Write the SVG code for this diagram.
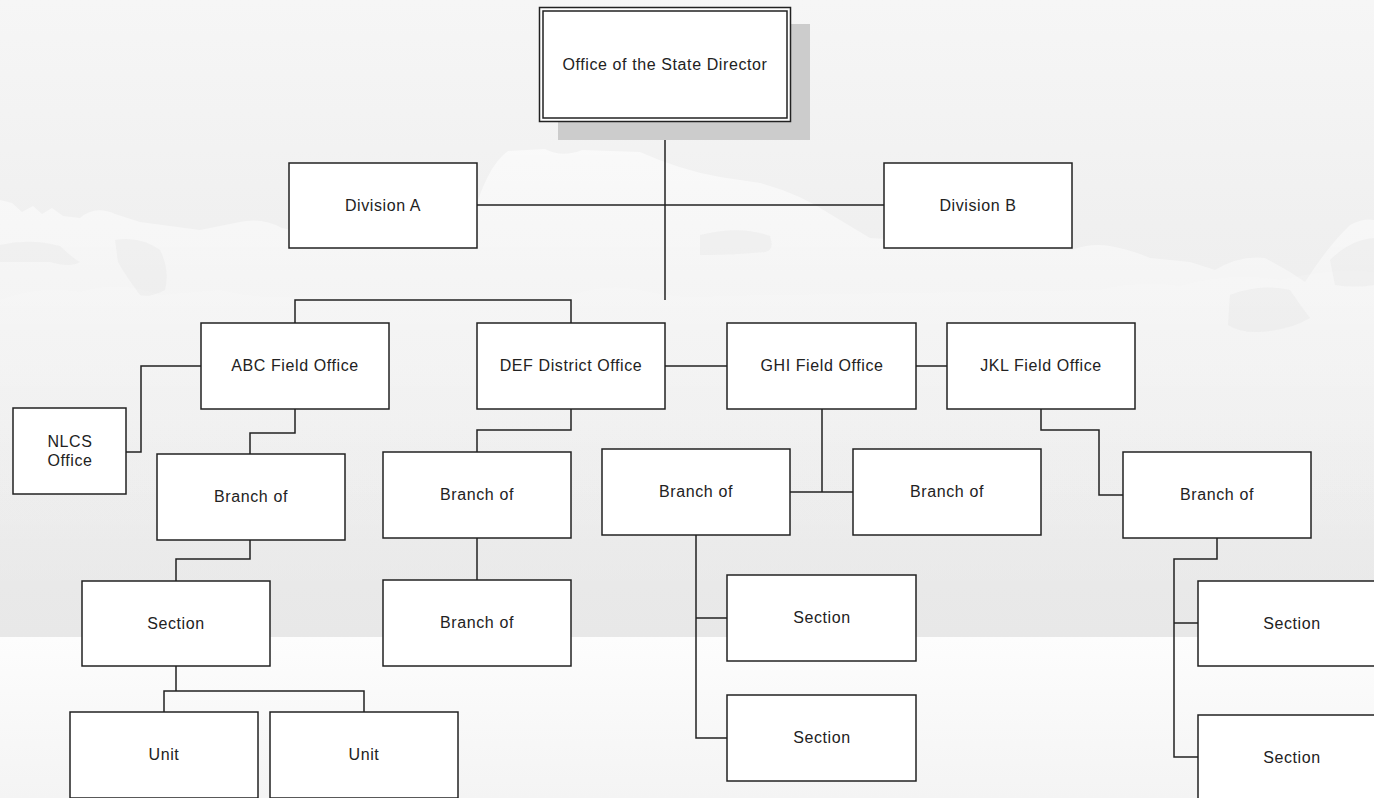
<svg xmlns="http://www.w3.org/2000/svg" width="1374" height="798" viewBox="0 0 1374 798">
  <defs>
    <linearGradient id="sky" x1="0" y1="0" x2="0" y2="637" gradientUnits="userSpaceOnUse">
      <stop offset="0" stop-color="#f6f6f6"/>
      <stop offset="0.35" stop-color="#f0f0f0"/>
      <stop offset="1" stop-color="#e8e8e8"/>
    </linearGradient>
    <linearGradient id="ground" x1="0" y1="637" x2="0" y2="798" gradientUnits="userSpaceOnUse">
      <stop offset="0" stop-color="#fdfdfd"/>
      <stop offset="1" stop-color="#f4f4f4"/>
    </linearGradient>
    <linearGradient id="cloud" x1="0" y1="140" x2="0" y2="600" gradientUnits="userSpaceOnUse">
      <stop offset="0" stop-color="#ffffff" stop-opacity="0.6"/>
      <stop offset="0.35" stop-color="#ffffff" stop-opacity="0.35"/>
      <stop offset="1" stop-color="#ffffff" stop-opacity="0"/>
    </linearGradient>
    <style>
      .box { fill: #ffffff; stroke: #222222; stroke-width: 1.5; }
      .lbl { font-family: "Liberation Sans", Arial, sans-serif; font-size: 16px; letter-spacing: 0.6px; fill: #222222; text-anchor: middle; }
      .conn { fill: none; stroke: #222222; stroke-width: 1.5; }
      .shade { fill: #e2e2e2; opacity: 0.3; }
    </style>
  </defs>

  <!-- background -->
  <rect x="0" y="0" width="1374" height="637" fill="url(#sky)"/>
  <path fill="url(#cloud)" d="M0,200 L12,203 L22,212 L33,206 L42,214 L52,208 L63,216 L80,218 Q95,205 115,214 L140,222 Q170,226 200,230 L240,222 Q262,217 282,228 L300,232 L470,226 Q486,166 508,151 L545,149 Q562,158 582,150 L640,152 Q680,170 720,177 L760,183 Q800,194 830,214 L870,238 L1072,250 Q1090,243 1110,246 Q1132,250 1150,258 L1190,262 L1215,270 Q1240,255 1265,258 L1290,272 L1305,282 Q1328,246 1350,225 Q1364,218 1374,220 L1374,600 L0,600 Z"/>
  <path fill="url(#cloud)" d="M0,300 Q40,285 80,292 Q120,280 160,295 L220,290 Q260,300 300,296 L560,300 Q600,282 640,290 Q680,300 720,296 L1100,290 Q1140,280 1180,286 Q1230,272 1280,280 Q1330,268 1374,272 L1374,600 L0,600 Z" opacity="0.3"/>
  <path class="shade" d="M0,245 Q30,238 60,246 Q75,260 80,262 Q70,268 50,262 Q20,262 0,262 Z"/>
  <path class="shade" d="M115,240 Q140,236 160,250 Q170,270 165,290 Q150,298 140,295 Q125,275 118,262 Z"/>
  <path class="shade" d="M700,235 Q740,225 770,236 Q775,250 765,252 Q735,255 700,255 Z"/>
  <path class="shade" d="M1230,295 Q1260,283 1290,290 Q1300,305 1310,318 Q1290,330 1260,332 Q1240,333 1228,325 Z"/>
  <path class="shade" d="M1330,260 Q1350,240 1374,238 L1374,285 Q1355,288 1335,285 Z"/>
  <rect x="0" y="637" width="1374" height="161" fill="url(#ground)"/>

  <!-- connectors -->
  <g id="connectors">
    <path class="conn" d="M665,122 V300"/>
    <path class="conn" d="M477,205 H884"/>
    <path class="conn" d="M295,323 V300 H571 V323"/>
    <path class="conn" d="M665,366 H727"/>
    <path class="conn" d="M916,366 H947"/>
    <path class="conn" d="M201,366 H141 V452 H126"/>
    <path class="conn" d="M295,409 V433 H250 V454"/>
    <path class="conn" d="M250,540 V559 H176 V581"/>
    <path class="conn" d="M176,666 V691"/>
    <path class="conn" d="M164,712 V691 H364 V712"/>
    <path class="conn" d="M571,409 V430 H477 V452"/>
    <path class="conn" d="M477,538 V580"/>
    <path class="conn" d="M822,409 V492"/>
    <path class="conn" d="M790,492 H853"/>
    <path class="conn" d="M696,535 V738 H727"/>
    <path class="conn" d="M696,618 H727"/>
    <path class="conn" d="M1041,409 V430 H1099 V495 H1123"/>
    <path class="conn" d="M1217,538 V559 H1174 V757 H1198"/>
    <path class="conn" d="M1174,623 H1198"/>
  </g>

  <!-- nodes -->
  <g id="node-director">
    <rect x="558" y="24" width="252" height="116" fill="#cccccc"/>
    <rect x="539.5" y="7.5" width="251" height="114" fill="#ffffff" stroke="#222222" stroke-width="1.5"/>
    <rect x="543" y="11" width="244" height="107" fill="none" stroke="#222222" stroke-width="1.5"/>
    <text class="lbl" x="665" y="70">Office of the State Director</text>
  </g>
  <g id="node-division-a">
    <rect class="box" x="289" y="163" width="188" height="85"/>
    <text class="lbl" x="383" y="211">Division A</text>
  </g>
  <g id="node-division-b">
    <rect class="box" x="884" y="163" width="188" height="85"/>
    <text class="lbl" x="978" y="211">Division B</text>
  </g>
  <g id="node-abc">
    <rect class="box" x="201" y="323" width="188" height="86"/>
    <text class="lbl" x="295" y="371">ABC Field Office</text>
  </g>
  <g id="node-nlcs">
    <rect class="box" x="13" y="408" width="113" height="86"/>
    <text class="lbl" x="70" y="447">NLCS</text>
    <text class="lbl" x="70" y="466">Office</text>
  </g>
  <g id="node-def">
    <rect class="box" x="477" y="323" width="188" height="86"/>
    <text class="lbl" x="571" y="371">DEF District Office</text>
  </g>
  <g id="node-ghi">
    <rect class="box" x="727" y="323" width="189" height="86"/>
    <text class="lbl" x="822" y="371">GHI Field Office</text>
  </g>
  <g id="node-jkl">
    <rect class="box" x="947" y="323" width="188" height="86"/>
    <text class="lbl" x="1041" y="371">JKL Field Office</text>
  </g>
  <g id="node-branch-abc">
    <rect class="box" x="157" y="454" width="188" height="86"/>
    <text class="lbl" x="251" y="502">Branch of</text>
  </g>
  <g id="node-branch-def">
    <rect class="box" x="383" y="452" width="188" height="86"/>
    <text class="lbl" x="477" y="500">Branch of</text>
  </g>
  <g id="node-branch-def-2">
    <rect class="box" x="383" y="580" width="188" height="86"/>
    <text class="lbl" x="477" y="628">Branch of</text>
  </g>
  <g id="node-branch-ghi-1">
    <rect class="box" x="602" y="449" width="188" height="86"/>
    <text class="lbl" x="696" y="497">Branch of</text>
  </g>
  <g id="node-branch-ghi-2">
    <rect class="box" x="853" y="449" width="188" height="86"/>
    <text class="lbl" x="947" y="497">Branch of</text>
  </g>
  <g id="node-branch-jkl">
    <rect class="box" x="1123" y="452" width="188" height="86"/>
    <text class="lbl" x="1217" y="500">Branch of</text>
  </g>
  <g id="node-section-abc">
    <rect class="box" x="82" y="581" width="188" height="85"/>
    <text class="lbl" x="176" y="629">Section</text>
  </g>
  <g id="node-unit-1">
    <rect class="box" x="70" y="712" width="188" height="86"/>
    <text class="lbl" x="164" y="760">Unit</text>
  </g>
  <g id="node-unit-2">
    <rect class="box" x="270" y="712" width="188" height="86"/>
    <text class="lbl" x="364" y="760">Unit</text>
  </g>
  <g id="node-section-ghi-1">
    <rect class="box" x="727" y="575" width="189" height="86"/>
    <text class="lbl" x="822" y="623">Section</text>
  </g>
  <g id="node-section-ghi-2">
    <rect class="box" x="727" y="695" width="189" height="86"/>
    <text class="lbl" x="822" y="743">Section</text>
  </g>
  <g id="node-section-jkl-1">
    <rect class="box" x="1198" y="581" width="188" height="85"/>
    <text class="lbl" x="1292" y="629">Section</text>
  </g>
  <g id="node-section-jkl-2">
    <rect class="box" x="1198" y="715" width="188" height="86"/>
    <text class="lbl" x="1292" y="763">Section</text>
  </g>
</svg>
